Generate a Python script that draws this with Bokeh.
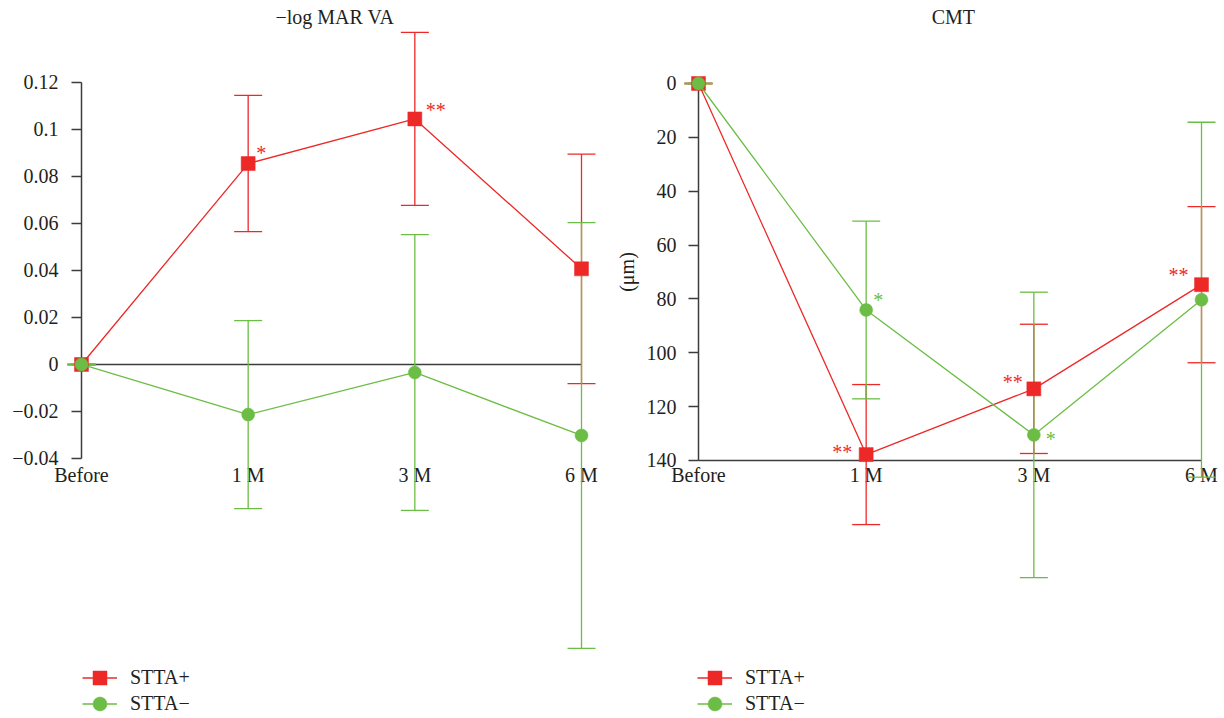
from bokeh.plotting import figure
from bokeh.models import (ColumnDataSource, Range1d, FixedTicker, CustomJSTickFormatter,
                          Whisker, TeeHead, Legend, LegendItem, Label)
from bokeh.layouts import row
from bokeh.embed import file_html
from bokeh.resources import INLINE
from bokeh.core.properties import value

# ---------------- data ----------------
categories = ["Before", "1 M", "3 M", "6 M"]
x_pos = [0, 1, 2, 3]
series_names = ["STTA+", "STTA\u2212"]

va_plus_mean = [0.0, 0.0855, 0.1045, 0.0407]
va_plus_sd = [0.0, 0.029, 0.0368, 0.0488]
va_minus_mean = [0.0, -0.0213, -0.0034, -0.0302]
va_minus_sd = [0.0, 0.040, 0.0587, 0.0906]

cmt_plus_mean = [0.0, 137.8, 113.4, 74.7]
cmt_plus_sd = [0.0, 26.0, 24.0, 29.0]
cmt_minus_mean = [0.0, 84.1, 130.5, 80.3]
cmt_minus_sd = [0.0, 33.0, 53.0, 65.9]

va_plus_sig = ["", "*", "**", ""]
va_minus_sig = ["", "", "", ""]
cmt_plus_sig = ["", "**", "**", "**"]
cmt_minus_sig = ["", "*", "*", ""]

va_ticks = [-0.04, -0.02, 0, 0.02, 0.04, 0.06, 0.08, 0.1, 0.12]
cmt_ticks = [0, 20, 40, 60, 80, 100, 120, 140]

# ---------------- style ----------------
RED = "#ed2928"
GREEN = "#6cbd45"
TXT = "#231f20"
AXC = "#3c3c3c"
FONT = "Liberation Serif"
FIG_H = 716

# star label offsets (screen px, centre of text relative to point)
va_plus_off = [(0, 0), (13, -13), (21, -11), (0, 0)]
va_minus_off = [(0, 0), (0, 0), (0, 0), (0, 0)]
cmt_plus_off = [(0, 0), (-24, -5), (-21, -9), (-23, -12)]
cmt_minus_off = [(0, 0), (12, -12), (17, 2), (0, 0)]


def style_axis(ax):
    ax.major_label_text_font = FONT
    ax.major_label_text_font_size = "20px"
    ax.major_label_text_color = TXT
    ax.axis_line_color = AXC
    ax.axis_line_width = 1.5
    ax.major_tick_line_color = AXC
    ax.major_tick_line_width = 1.5
    ax.minor_tick_line_color = None
    ax.level = "underlay"


def add_series(p, mean, sd, sig, off, color, marker, size):
    src = ColumnDataSource(dict(
        x=x_pos, y=mean,
        upper=[m + s for m, s in zip(mean, sd)],
        lower=[m - s for m, s in zip(mean, sd)],
    ))
    w = Whisker(base="x", upper="upper", lower="lower", source=src,
                line_color=color, line_width=1.3,
                upper_head=TeeHead(size=28, line_color=color, line_width=1.3),
                lower_head=TeeHead(size=28, line_color=color, line_width=1.3))
    p.add_layout(w)
    ln = p.line("x", "y", source=src, line_color=color, line_width=1.3)
    sc = p.scatter("x", "y", source=src, marker=marker, size=size,
                   fill_color=color, line_color=color, line_width=0.5)
    tsrc = ColumnDataSource(dict(
        x=[x for x, t in zip(x_pos, sig) if t],
        y=[y for y, t in zip(mean, sig) if t],
        text=[t for t in sig if t],
        dx=[o[0] for o, t in zip(off, sig) if t],
        dy=[o[1] + 2 for o, t in zip(off, sig) if t],
    ))
    p.text("x", "y", text="text", source=tsrc, x_offset="dx", y_offset="dy",
           text_font=value(FONT), text_font_size="20px", text_color=color,
           text_align="center", text_baseline="alphabetic")
    return ln, sc


def make_fig(title, width, x_range, y_range, mb_left, mb_right, y_ticks, y_bounds, x_fixed,
             x_standoff, y_standoff, y_formatter, ylabel=None):
    p = figure(width=width, height=FIG_H, x_range=x_range, y_range=y_range,
               output_backend="svg", toolbar_location=None,
               min_border_left=mb_left, min_border_right=mb_right,
               min_border_top=0, min_border_bottom=0)
    p.grid.visible = False
    p.outline_line_color = None
    p.background_fill_color = "white"
    p.border_fill_color = "white"

    # y axis at "Before"
    ya = p.yaxis[0]
    ya.fixed_location = 0
    ya.bounds = y_bounds
    ya.ticker = FixedTicker(ticks=y_ticks)
    ya.formatter = y_formatter
    style_axis(ya)
    ya.major_tick_out = 10
    ya.major_tick_in = 0
    ya.major_label_standoff = y_standoff
    if ylabel:
        ya.axis_label = ylabel
        ya.axis_label_text_font = FONT
        ya.axis_label_text_font_size = "20px"
        ya.axis_label_text_font_style = "normal"
        ya.axis_label_text_color = TXT
        ya.axis_label_standoff = 6

    # x axis
    xa = p.xaxis[0]
    xa.fixed_location = x_fixed
    xa.bounds = (0, 3)
    xa.ticker = FixedTicker(ticks=x_pos)
    xa.formatter = CustomJSTickFormatter(args=dict(labels=categories),
                                         code="const i = Math.round(tick); return labels[i] || '';")
    style_axis(xa)
    xa.major_tick_out = 0
    xa.major_tick_in = 0
    xa.major_label_standoff = x_standoff

    # title centred over the categories
    p.add_layout(Label(x=1.52, y=FIG_H - 16, x_units="data", y_units="screen", text=title,
                       text_font=FONT, text_font_size="20px", text_color=TXT,
                       text_align="center", text_baseline="middle"))
    return p


y_fmt_va = CustomJSTickFormatter(code="""
if (Math.abs(tick) < 1e-9) { return "0"; }
let s = Math.abs(tick).toFixed(2).replace(/0+$/, "");
return (tick < 0 ? "\\u2212" : "") + s;
""")
y_fmt_cmt = CustomJSTickFormatter(code="return String(Math.round(tick));")

# ---------------- left chart ----------------
p1 = make_fig("\u2212log MAR VA", 612, Range1d(-0.462, 3.15), Range1d(-0.14979, 0.15489),
              4, 6, va_ticks, (-0.04, 0.12), 0, 100, 13, y_fmt_va)
l1, s1 = add_series(p1, va_plus_mean, va_plus_sd, va_plus_sig, va_plus_off, RED, "square", 14)
l2, s2 = add_series(p1, va_minus_mean, va_minus_sd, va_minus_sig, va_minus_off, GREEN, "circle", 13)

# ---------------- right chart ----------------
p2 = make_fig("CMT", 610, Range1d(-0.48906, 3.1252), Range1d(235.07, -30.822),
              4, 0, cmt_ticks, (0, 140), 140, 4, 12, y_fmt_cmt, ylabel="(\u03bcm)")
l3, s3 = add_series(p2, cmt_plus_mean, cmt_plus_sd, cmt_plus_sig, cmt_plus_off, RED, "square", 14)
l4, s4 = add_series(p2, cmt_minus_mean, cmt_minus_sd, cmt_minus_sig, cmt_minus_off, GREEN, "circle", 13)


def add_legend(p, items, x):
    # one legend per entry so that rows sit 26 px apart with full-size markers
    for k, (name, rends) in enumerate(zip(series_names, items)):
        row_center = 677 + 26 * k
        bottom = row_center + 17.5
        lg = Legend(items=[LegendItem(label=name, renderers=rends)],
                    location=(x, FIG_H - bottom), orientation="vertical",
                    glyph_width=35, glyph_height=35, label_height=35,
                    label_standoff=13, padding=0, margin=0,
                    border_line_color=None, background_fill_alpha=0,
                    label_text_font=FONT, label_text_font_size="20px",
                    label_text_color=TXT)
        p.add_layout(lg)


add_legend(p1, [[l1, s1], [l2, s2]], 82 - 4)
add_legend(p2, [[l3, s3], [l4, s4]], 697 - 616)

layout = row(p1, p2)
open("out.html", "w").write(file_html(layout, INLINE))
